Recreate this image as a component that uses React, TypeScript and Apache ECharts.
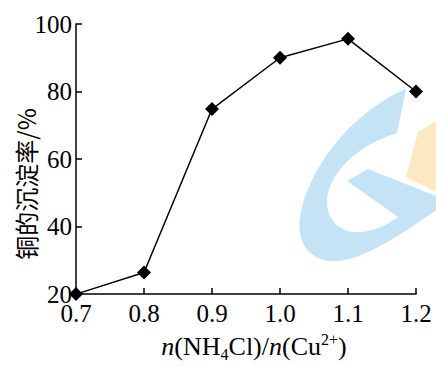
import React, { useEffect, useRef } from "react";
import * as echarts from "echarts";

const xValues = [0.7, 0.8, 0.9, 1.0, 1.1, 1.2];
const yValues = [20, 26.4, 74.8, 90, 95.6, 80];
const yTicks = { min: 20, max: 100, interval: 20 };
const xTicks = { min: 0.7, max: 1.2, interval: 0.1 };
const yName = "铜的沉淀率/%";

const SERIF = "Liberation Serif";
const CJK = "Noto Sans CJK SC";

const G_PATH =
  "M406,89 C370,103 315,150 301,212 C294,245 312,263 338,261 C365,259 405,232 436,210 L436,196 L368,169 L347,181 L398,217 C382,229 360,236 345,230 C326,222 323,200 332,182 C346,156 370,142 397,133 Z";

let registered = false;

export default function App() {
  const ref = useRef<HTMLDivElement>(null);
  useEffect(() => {
    if (!ref.current) return;
    if (!registered) {
      echarts.graphic.registerShape("gmark", echarts.graphic.extendPath(G_PATH, {}));
      registered = true;
    }
    const chart = echarts.init(ref.current, null, { renderer: "svg" });
    const data = xValues.map((x, i) => [x, yValues[i]]);
    chart.setOption({
      animation: false,
      backgroundColor: "#ffffff",
      grid: { left: 76, right: 20, top: 24, bottom: 69, containLabel: false },
      graphic: [
        {
          type: "gmark",
          silent: true,
          z: -10,
          x: 0,
          y: 0,
          scaleX: 1,
          scaleY: 1,
          style: { fill: "#c4e4f6" },
        },
        {
          type: "polygon",
          silent: true,
          z: -11,
          shape: { points: [[406, 177], [418, 132], [436, 121], [436, 192]] },
          style: { fill: "#fde8c4" },
        },
        {
          type: "text",
          silent: true,
          x: 25,
          y: 184,
          rotation: Math.PI / 2,
          style: {
            text: yName,
            fill: "#000",
            font: `24px ${CJK}`,
            align: "center",
            verticalAlign: "middle",
          },
        },
      ],
      xAxis: {
        type: "value",
        min: xTicks.min,
        max: xTicks.max,
        interval: xTicks.interval,
        splitLine: { show: false },
        axisLine: { lineStyle: { color: "#000", width: 1.5 } },
        axisTick: { inside: true, length: 6, lineStyle: { color: "#000", width: 1.5 } },
        axisLabel: {
          color: "#000",
          fontFamily: SERIF,
          fontSize: 25,
          margin: 7,
          formatter: (v: number) => v.toFixed(1),
        },
        name: "{i|n}(NH{sub|4}Cl)/{i|n}(Cu{sup|2+})",
        nameLocation: "middle",
        nameGap: 34,
        nameTextStyle: {
          color: "#000",
          fontFamily: SERIF,
          fontSize: 26,
          padding: [0, 0, 0, 16],
          rich: {
            i: { fontFamily: SERIF, fontSize: 26, fontStyle: "italic", color: "#000" },
            sub: { fontFamily: SERIF, fontSize: 16, color: "#000", verticalAlign: "bottom", padding: [0, 0, -3, 0] },
            sup: { fontFamily: SERIF, fontSize: 16, color: "#000", verticalAlign: "top", padding: [-2, 0, 0, 0] },
          },
        },
      },
      yAxis: {
        type: "value",
        min: yTicks.min,
        max: yTicks.max,
        interval: yTicks.interval,
        splitLine: { show: false },
        axisLine: { show: true, lineStyle: { color: "#000", width: 1.5 } },
        axisTick: { show: true, inside: true, length: 6, lineStyle: { color: "#000", width: 1.5 } },
        axisLabel: { color: "#000", fontFamily: SERIF, fontSize: 25, margin: 4 },
      },
      series: [
        {
          type: "line",
          data,
          symbol: "diamond",
          symbolSize: 14,
          lineStyle: { color: "#000", width: 1.5 },
          itemStyle: { color: "#000" },
          clip: false,
          z: 5,
        },
      ],
    });
    return () => chart.dispose();
  }, []);
  return <div ref={ref} style={{ width: 436, height: 367, position: "absolute", left: 0, top: 0 }} />;
}
